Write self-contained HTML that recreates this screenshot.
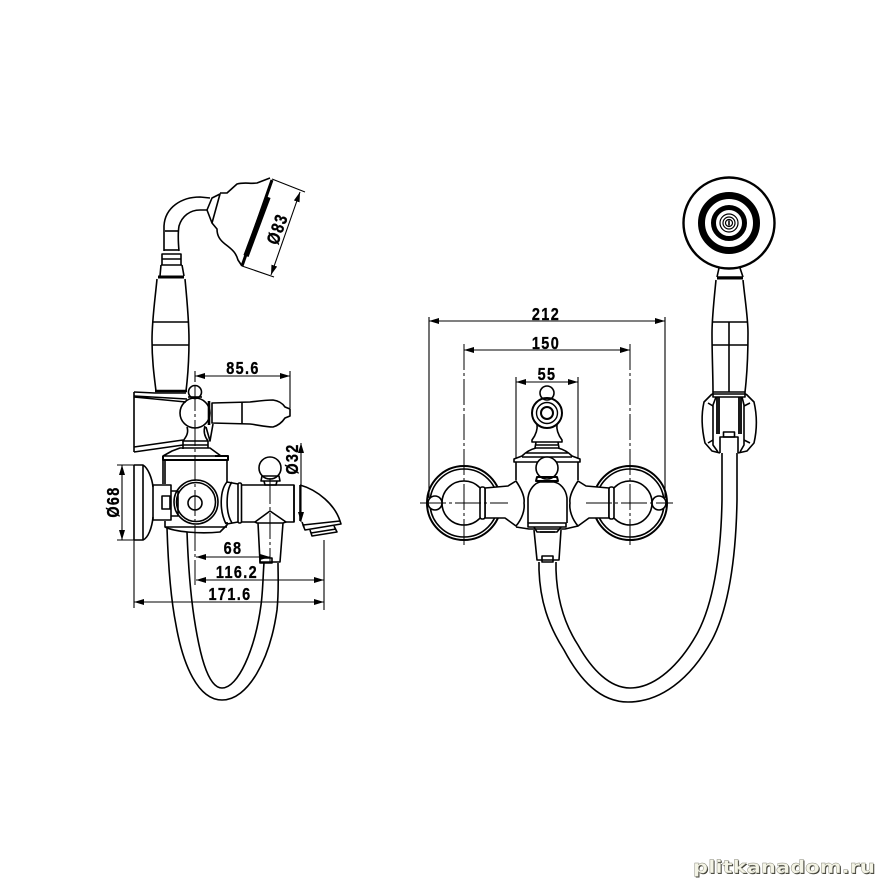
<!DOCTYPE html>
<html><head><meta charset="utf-8"><style>
html,body{margin:0;padding:0;background:#fff}
svg{display:block}
.m path,.m circle,.m line,.m rect{fill:none;stroke:#000;stroke-width:1.6;stroke-linejoin:round}
.d line{stroke:#000;stroke-width:1.1}
.a{marker-start:url(#ar);marker-end:url(#ar)}
.c{stroke:#000;stroke-width:1;stroke-dasharray:26 3 3 3;fill:none}
text.t{font:bold 17px "Liberation Sans",sans-serif;text-anchor:middle;fill:#000;stroke:#000;stroke-width:.3;letter-spacing:1.6px}
</style></head><body>
<svg width="880" height="880" viewBox="0 0 880 880" xmlns="http://www.w3.org/2000/svg">
<defs><marker id="ar" viewBox="0 0 10 6" refX="10" refY="3" markerWidth="10" markerHeight="6" markerUnits="userSpaceOnUse" orient="auto-start-reverse"><path d="M0 0L10 3L0 6z"/></marker></defs>
<rect width="880" height="880" fill="#fff"/>

<!-- LEFT VIEW -->
<g class="m">
<path d="M164 251V226C165 207 182 197 200 197L210 198"/>
<path d="M179 251C178 240 178 232 179 226C182 216 190 210 200 210L207 210"/>
<line x1="165" y1="231" x2="178" y2="231"/>
<line x1="164" y1="250" x2="179" y2="250"/>
<path d="M207 210L212 198L220 194L212 223Z"/>
<path d="M220 193L227 193L237 184C245 182 250 184 257 183L270 178"/>
<path d="M212 223L217 229C217 236 220 240 225 244C233 250 236 253 238 260L242 266"/>
<path d="M272 180L242 266" style="stroke-width:3"/>
<path d="M268 197L246 256" style="stroke-width:5.5"/>
<path d="M162 265V254H181V265"/>
<line x1="162" y1="259" x2="181" y2="259"/>
<path d="M161 265L160 276M182 265L184 276M161 265H182"/>
<path d="M158 277H184" style="stroke-width:3"/>
<path d="M157 279C155 300 152 320 152 340C152 360 154 375 156 391M185 279C187 300 189 320 189 340C189 360 188 375 186 391"/>
<line x1="153" y1="322" x2="188" y2="322"/>
<line x1="152" y1="345" x2="189" y2="345"/>
<path d="M155 391H187" style="stroke-width:2.4"/>
<path d="M134 392V452"/>
<path d="M134 392L155 393H186M134 397L186 402M134 396L187 399"/>
<path d="M134 452L183 445M134 447L183 440"/>
<circle cx="195" cy="392" r="6.5"/>
<path d="M188 397L202 397"/>
<circle cx="195" cy="413" r="15"/>
<path d="M209 401V425" style="stroke-width:2.6"/>
<path d="M212 403L250 402C258 401 266 400 273 400C280 401 283 404 285 407L290 409V416L285 418C283 421 280 425 273 427C266 427 258 425 250 424L212 423Z"/>
<line x1="242" y1="402" x2="242" y2="424"/>
<path d="M187 427C189 433 186 437 183 441H208C205 437 203 432 205 426"/>
<path d="M206 427L210 441L213 424"/>
<path d="M183 441V449M208 441V448M183 445H208"/>
<path d="M180 448H210L221 456L163 456L172 451Z"/>
<path d="M163 456V460H228V456H215" style="stroke-width:2"/>
<path d="M163 460V484M165 460V484M227 460V482"/>
<circle cx="196" cy="502" r="22"/>
<circle cx="196" cy="502" r="19.5"/>
<circle cx="195" cy="503" r="7"/>
<path d="M134 465V540M143 465V540M134 465H143C148 468 152 478 153 487M134 540H143C148 538 152 528 153 517"/>
<rect x="153" y="485" width="18" height="35"/>
<rect x="162" y="496" width="8" height="13"/>
<path d="M171 491H178V516H171"/>
<path d="M165 521V527C175 532 200 534 220 532L227 525V522"/>
<path d="M165 527H227"/>
<path d="M227 482C220 490 219 510 226 524M232 482C226 490 225 512 232 523"/>
<path d="M227 482L238 484M227 524L238 522"/>
<rect x="238" y="483" width="3.5" height="40" rx="1.5"/>
<path d="M241 485H294V522H284M241 522H256"/>
<path d="M300 485C318 490 335 505 340 521"/>
<path d="M300 485V521M294 485V522"/>
<path d="M303 525L340 521L341 524L305 530Z"/>
<path d="M310 530L312 536L337 532L334 526M311 533L336 529"/>
<path d="M302 522L304 527"/>
<circle cx="270" cy="468" r="11"/>
<path d="M262 476H279L280 481H261Z"/>
<path d="M264 481L265 485H276L277 481"/>
<path d="M255 522L270 511L286 522L283 523H257Z"/>
<path d="M258 523L260 562H280L283 523"/>
<rect x="260" y="558" width="12" height="5"/>
<path d="M167 528C168 560 170 595 176 625C183 665 198 700 222 700C248 700 270 660 277 610C279 590 278 575 278 563"/>
<path d="M187 532C188 560 190 590 194 617C199 650 207 688 222 688C238 688 255 650 261 605C263 590 263 575 264 563"/>
</g>
<g class="d">
<line x1="195" y1="376" x2="290" y2="376" class="a"/>
<line x1="290" y1="371" x2="290" y2="408"/>
<line x1="195" y1="371" x2="195" y2="382"/>
<line x1="272" y1="179" x2="305" y2="192"/>
<line x1="242" y1="266" x2="274" y2="277"/>
<line x1="300" y1="192" x2="271" y2="275" class="a"/>
<line x1="117" y1="465" x2="134" y2="465"/>
<line x1="117" y1="540" x2="134" y2="540"/>
<line x1="122" y1="465" x2="122" y2="540" class="a"/>
<line x1="301" y1="443" x2="301" y2="522" class="a"/>
<line x1="196" y1="557" x2="270" y2="557" class="a"/>
<line x1="196" y1="580" x2="324" y2="580" class="a"/>
<line x1="134" y1="602" x2="324" y2="602" class="a"/>
<line x1="134" y1="540" x2="134" y2="608"/>
<line x1="324" y1="540" x2="324" y2="610"/>
</g>
<path class="c" d="M195 385V585"/>
<path class="c" d="M270 478V562"/>
<text class="t" transform="translate(243 374) scale(.85 1.05)">85.6</text>
<text class="t" transform="translate(233 554) scale(.85 1.05)">68</text>
<text class="t" transform="translate(237 578) scale(.85 1.05)">116.2</text>
<text class="t" transform="translate(230 600) scale(.85 1.05)">171.6</text>
<text class="t" transform="translate(283 231) rotate(-70) scale(.85 1.05)">Ø83</text>
<text class="t" transform="translate(119 502) rotate(-90) scale(.85 1.05)">Ø68</text>
<text class="t" transform="translate(298 459) rotate(-90) scale(.85 1.05)">Ø32</text>

<!-- RIGHT VIEW -->
<g class="m">
<circle cx="464" cy="503" r="37" style="stroke-width:2"/>
<circle cx="464" cy="503" r="34"/>
<circle cx="630" cy="503" r="37" style="stroke-width:2"/>
<circle cx="630" cy="503" r="34"/>
<circle cx="464" cy="503" r="22" style="fill:#fff"/>
<circle cx="630" cy="503" r="22" style="fill:#fff"/>
<circle cx="435" cy="503" r="7" style="fill:#fff"/>
<circle cx="659" cy="503" r="7" style="fill:#fff"/>
<path d="M485 488L508 486L516 481C522 490 525 497 524 503C525 510 522 519 516 526L505 518H485Z" style="fill:#fff"/>
<path d="M609 488L586 486L578 481C572 490 569 497 570 503C569 510 572 519 578 526L589 518H609Z" style="fill:#fff"/>
<rect x="480" y="487" width="5" height="32" rx="2" style="fill:#fff"/>
<rect x="609" y="487" width="5" height="32" rx="2" style="fill:#fff"/>
<path d="M516 462V480M578 462V480"/>
<path d="M514 459L522 456C527 451 532 449 536 448H558C562 449 567 451 572 456L580 459V462H514Z" style="fill:#fff"/>
<path d="M522 457H572M526 453H568"/>
<path d="M516 527L529 529H565L578 526"/>
<circle cx="547" cy="393" r="7"/>
<circle cx="547" cy="413" r="15" style="stroke-width:2"/>
<circle cx="547" cy="413" r="10.5" style="stroke-width:1.4"/>
<circle cx="547" cy="413" r="6" style="stroke-width:2"/>
<path d="M537 424C538 431 535 436 532 440V442H562V440C559 436 556 431 557 424"/>
<path d="M536 442L535 448M558 442L559 448M536 445H558"/>
<circle cx="547" cy="468" r="11" style="fill:#fff"/>
<path d="M537 477H557L558 481H536Z" style="stroke-width:2"/>
<path d="M528 523V498C529 489 535 483 540 482H554C560 483 566 489 567 498V523" style="fill:#fff"/>
<rect x="528" y="523" width="38" height="4"/>
<path d="M534 527L537 532H557L561 527"/>
<path d="M534 530L537 560H559L561 530"/>
<rect x="542" y="556" width="11" height="6"/>
<path d="M540 532H555"/>
<path d="M539 562V570C540 600 548 625 564 650C580 680 600 702 628 702C660 702 690 680 712 640C728 610 736 560 737 500V453"/>
<path d="M556 562V570C557 600 565 625 578 645C592 670 610 688 630 688C655 688 680 665 698 632C712 605 721 560 722 500V453"/>
<circle cx="729" cy="223" r="45.5" style="stroke-width:2.4"/>
<circle cx="729" cy="223" r="27.5" style="stroke-width:7"/>
<circle cx="729" cy="223" r="15.5" style="stroke-width:5"/>
<circle cx="729" cy="223" r="9" style="stroke-width:1.2"/>
<circle cx="729" cy="223" r="6" style="stroke-width:1.2"/>
<circle cx="729" cy="223" r="3.5" style="stroke-width:1.2"/>
<line x1="729" y1="220.5" x2="729" y2="225.5"/>
<path d="M719 268L717 277M740 268L743 277M717 277H743"/>
<path d="M717 278H743" style="stroke-width:3"/>
<path d="M716 280C714 300 712 318 712 333C712 355 713 375 713 392M743 280C745 300 748 318 748 333C748 355 747 375 745 392"/>
<line x1="712" y1="322" x2="747" y2="322"/>
<line x1="712" y1="345" x2="748" y2="345"/>
<line x1="729" y1="322" x2="729" y2="392"/>
<rect x="713" y="392" width="32" height="5"/>
<path d="M712 394L704 402C701 415 702 430 705 443L712 451L720 453M746 394L754 402C757 415 757 430 754 443L747 451L738 453"/>
<path d="M712 394H746"/>
<path d="M716 397L713 405V445L718 452M742 397L744 405V445L740 452"/>
<path d="M708 403L713 406M750 403L744 406M708 443L713 440M750 443L744 440"/>
<path d="M717 397V434M719 397V434M741 397V434M739 397V434" style="stroke-width:1.8"/>
<rect x="723.5" y="432" width="11" height="5"/>
<path d="M720 453V437H738V453"/>
</g>
<g class="d">
<line x1="429" y1="321" x2="665" y2="321" class="a"/>
<line x1="429" y1="317" x2="429" y2="498"/>
<line x1="665" y1="317" x2="665" y2="498"/>
<line x1="464" y1="350" x2="630" y2="350" class="a"/>
<line x1="516" y1="382" x2="578" y2="382" class="a"/>
<line x1="516" y1="377" x2="516" y2="458"/>
<line x1="578" y1="377" x2="578" y2="458"/>
</g>
<path class="c" d="M464 344V545M630 344V545"/>
<path class="c" d="M420 503H508M586 503H673"/>
<text class="t" transform="translate(546 320) scale(.85 1.05)">212</text>
<text class="t" transform="translate(546 349) scale(.85 1.05)">150</text>
<text class="t" transform="translate(547 380) scale(.85 1.05)">55</text>

<!-- watermark -->
<text x="694" y="874" style="font:bold 18px 'DejaVu Sans',sans-serif;fill:#3c3c34" textLength="182" lengthAdjust="spacingAndGlyphs">plitkanadom.ru</text>
<text x="693" y="873" style="font:bold 18px 'DejaVu Sans',sans-serif;fill:#f4f4e6;stroke:#8a8a7c;stroke-width:.4" textLength="182" lengthAdjust="spacingAndGlyphs">plitkanadom.ru</text>
</svg>
</body></html>
